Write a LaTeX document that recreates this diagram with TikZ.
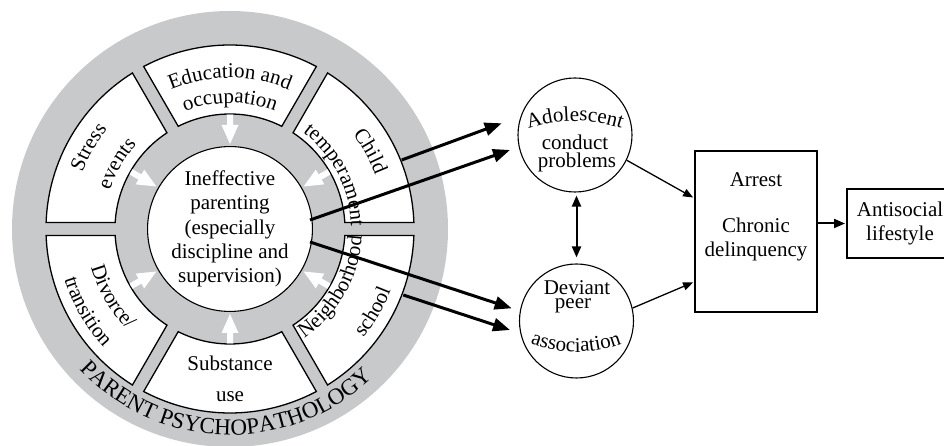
\documentclass[tikz,border=0pt]{standalone}
\usepackage{fontspec}
\setmainfont{Liberation Serif}
\usetikzlibrary{arrows.meta,decorations.text}
\definecolor{ringgray}{RGB}{200,201,203}
\newcommand{\segf}{\fontsize{21}{24.3}\selectfont}
\newcommand{\ringf}{\fontsize{23}{27}\selectfont}
\begin{document}
\begin{tikzpicture}[x=1pt,y=1pt,
  seg/.style={draw=black, line width=1.3pt, fill=white},
  bigarrow/.style={line width=3pt, -{Triangle[length=17pt,width=13pt]}},
  smallarrow/.style={line width=1.3pt, -{Triangle[length=10pt,width=8pt]}},
  midtip/.style={line width=2pt},
  bubble/.style={draw, circle, line width=1.1pt, minimum size=114pt, inner sep=0pt},
  lbl/.style={font=\segf, inner sep=0pt}
]
\useasboundingbox (0,0) rectangle (944,446);

% ---------------- wheel ----------------
\begin{scope}[shift={(230,217)}]
  \fill[ringgray] (0,0) circle[radius=218];
  \foreach \a in {0,60,...,300} {
    \draw[seg] (\a+2.02:184) arc[start angle=\a+2.02, end angle=\a+57.98, radius=184]
      -- (\a+56.76:115) arc[start angle=\a+56.76, end angle=\a+3.24, radius=115] -- cycle;
  }
  \foreach \a in {30,90,...,330} {
    \fill[white, rotate=\a] (114.3,-3) -- (104,-3) -- (104,-8.5) -- (85,0)
      -- (104,8.5) -- (104,3) -- (114.3,3) -- cycle;
  }
  \node[draw, circle, fill=white, line width=1.1pt, minimum size=164pt, inner sep=0pt,
        align=center, font=\segf] (ip) at (0,0)
        {Ineffective\\parenting\\(especially\\discipline and\\supervision)};

  % Education and occupation (top, clockwise)
  \path[decorate, decoration={text along path, text align=center, text={|\segf|Education and}}]
    (150:151) arc[start angle=150, end angle=30, radius=151];
  \path[decorate, decoration={text along path, text align=center, text={|\segf|occupation}}]
    (150:126) arc[start angle=150, end angle=30, radius=126];

  % Stress events (upper left, clockwise)
  \path[decorate, decoration={text along path, text align=center, text={|\segf|Stress}}]
    (210:158) arc[start angle=210, end angle=90, radius=158];
  \path[decorate, decoration={text along path, text align=center, text={|\segf|events}}]
    (210:126) arc[start angle=210, end angle=90, radius=126];

  % Child temperament (upper right, clockwise)
  \path[decorate, decoration={text along path, text align=center, text={|\segf|Child}}]
    (89:155) arc[start angle=89, end angle=-31, radius=155];
  \path[decorate, decoration={text along path, text align=center, text={|\segf|temperament}}]
    (87:121) arc[start angle=87, end angle=-33, radius=121];

  % Divorce/transition (lower left, counterclockwise)
  \path[decorate, decoration={text along path, text align=center, text={|\segf|Divorce/}}]
    (150:144) arc[start angle=150, end angle=270, radius=144];
  \path[decorate, decoration={text along path, text align=center, text={|\segf|transition}}]
    (150:173) arc[start angle=150, end angle=270, radius=173];

  % Neighborhood school (lower right, counterclockwise)
  \path[decorate, decoration={text along path, text align=center, text={|\segf|Neighborhood}}]
    (-89.5:132) arc[start angle=-89.5, end angle=30.5, radius=132];
  \path[decorate, decoration={text along path, text align=center, text={|\segf|school}}]
    (-90:172) arc[start angle=-90, end angle=30, radius=172];

  % Substance use (bottom, straight)
  \node[lbl] (sub1) at (0,-134) {Substance};
  \node[lbl] (sub2) at (0,-168) {use};

  % ring label
  \path[decorate, decoration={text along path, text align=center, text={|\ringf|PARENT PSYCHOPATHOLOGY}}]
    (188.5:206) arc[start angle=188.5, end angle=348.5, radius=206];
\end{scope}

% ---------------- bubbles ----------------
\node[bubble] (adol) at (575,311) {};
\node[bubble] (dev) at (576.5,125) {};
\begin{scope}[shift={(575,175)}]
  \path[decorate, decoration={text along path, text align=center, text={|\segf|Adolescent}}]
    (130:150) arc[start angle=130, end angle=50, radius=150];
\end{scope}
\node[lbl] (adol2) at (575,304) {conduct};
\node[lbl] (adol3) at (577,284) {problems};

\node[lbl] (dev1) at (577,158) {Deviant};
\node[lbl] (dev2) at (573,140.5) {peer};
\begin{scope}[shift={(576,224)}]
  \path[decorate, decoration={text along path, text align=center, text={|\segf|association}}]
    (230:130) arc[start angle=230, end angle=310, radius=130];
\end{scope}

% ---------------- boxes ----------------
\node[draw, line width=2pt, minimum width=122pt, minimum height=161pt, inner sep=0pt] (arrest) at (756,214.5) {};
\node[lbl, align=center] (arresttext) at (756,229) {Arrest\\[22pt]Chronic\\delinquency};
\node[draw, line width=2pt, minimum width=106pt, minimum height=69pt, inner sep=0pt,
      font=\segf, align=center] (anti) at (900,222.5) {Antisocial\\lifestyle};

% ---------------- connectors ----------------
\coordinate (w1) at (401.7,286);
\coordinate (t1) at (501.7,322.7);
\coordinate (w2) at (310,226);
\coordinate (t2) at (510,296);
\coordinate (w3) at (310,204);
\coordinate (t3) at (511.7,137.7);
\coordinate (w4) at (403.3,151);
\coordinate (t4) at (510,116);
\draw[bigarrow] (w1) -- (t1);
\draw[bigarrow] (w2) -- (t2);
\draw[bigarrow] (w3) -- (t3);
\draw[bigarrow] (w4) -- (t4);

\draw[smallarrow, shorten >=1pt] (adol.-26) -- ([yshift=33.5pt]arrest.west);
\draw[smallarrow, shorten >=1pt] (dev.13) -- ([yshift=-50.5pt]arrest.west);
\draw[midtip, {Triangle[length=11pt,width=9pt]}-{Triangle[length=11pt,width=9pt]},
      shorten <=3pt, shorten >=6pt] (dev.north |- adol.south) -- (dev.north);
\draw[midtip, -{Triangle[length=11pt,width=9pt]}, shorten >=1pt] (arrest.east |- anti.west) -- (anti.west);
\end{tikzpicture}
\end{document}
